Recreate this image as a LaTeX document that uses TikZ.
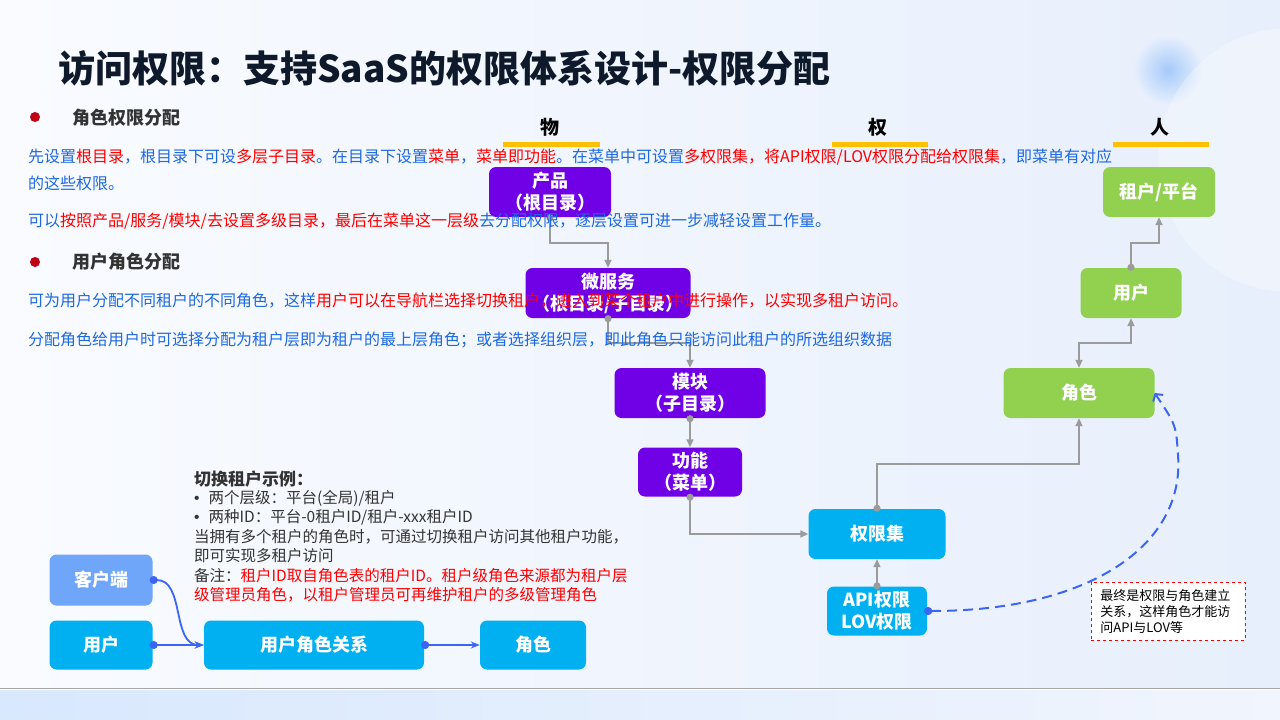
\documentclass[tikz,border=0pt]{standalone}
\usepackage{fontspec}
\setmainfont{Noto Sans CJK SC}
\newfontfamily\latinfont{Liberation Sans}
\usetikzlibrary{arrows.meta}
\definecolor{bgleft}{RGB}{249,251,255}
\definecolor{bgright}{RGB}{231,239,252}
\definecolor{bandleft}{RGB}{216,232,253}
\definecolor{bandright}{RGB}{241,245,253}
\definecolor{blobcol}{RGB}{165,202,250}
\definecolor{titlecol}{RGB}{14,26,43}
\definecolor{headcol}{RGB}{51,51,51}
\definecolor{dotred}{RGB}{192,0,20}
\definecolor{txtblue}{RGB}{30,105,225}
\definecolor{txtred}{RGB}{255,0,0}
\definecolor{wupurple}{RGB}{112,0,230}
\definecolor{quancyan}{RGB}{0,176,240}
\definecolor{rengreen}{RGB}{146,208,80}
\definecolor{clientblue}{RGB}{112,166,250}
\definecolor{linkgray}{RGB}{155,155,155}
\definecolor{linkblue}{RGB}{60,100,245}
\definecolor{barcol}{RGB}{255,192,0}

\begin{document}
\begin{tikzpicture}[x=1pt,y=-1pt,
    box/.style={rounded corners=7pt, text=white, align=center, inner sep=0pt,
      font=\bfseries\fontsize{18}{22}\selectfont},
    wu/.style={box, fill=wupurple},
    quan/.style={box, fill=quancyan},
    ren/.style={box, fill=rengreen},
    grayline/.style={draw=linkgray, line width=1.8pt, shorten <=-3pt,
      {Circle[length=7pt]}-{Triangle[length=8pt,width=7pt]}},
    graytwo/.style={draw=linkgray, line width=1.8pt,
      {Triangle[length=8pt,width=7pt]}-{Triangle[length=8pt,width=7pt]}},
    blueline/.style={draw=linkblue, line width=1.8pt, shorten <=-3pt,
      {Circle[length=8pt]}-{Stealth[length=9pt,width=7pt]}},
    dashline/.style={draw=linkblue, line width=2pt, dash pattern=on 10pt off 6pt,
      shorten <=-3pt, {Circle[length=8pt]}-{Straight Barb[length=5pt,width=12pt]}},
    txt/.style={anchor=west, inner sep=0pt, font=\fontsize{16}{19}\selectfont, text=txtblue},
    gtxt/.style={anchor=west, inner sep=0pt, font=\fontsize{15.5}{19}\selectfont, text=headcol},
    bullethead/.style={anchor=west, inner sep=0pt, font=\bfseries\fontsize{18}{20}\selectfont, text=headcol},
    colhead/.style={inner sep=0pt, font=\bfseries\fontsize{19}{20}\selectfont}]
    \useasboundingbox (0,0) rectangle (1280,720);
    % Fond
    \shade[left color=bgleft, right color=bgright] (0,0) rectangle (1280,688);
    \shade[inner color=blobcol, outer color=bgright] (1168,70) circle (34);
    \begin{scope}
        \clip (0,0) rectangle (1280,688);
        \fill[white, opacity=0.3] (1290,160) circle (132);
    \end{scope}
    \draw[gray!70, line width=1pt] (0,688) -- (1280,688);
    \shade[left color=bandleft, right color=bandright] (0,690) rectangle (1280,720);
    % Titre
    \node[anchor=west, inner sep=0pt, text=titlecol, font=\bfseries\fontsize{37}{40}\selectfont] (titre) at (58,68) {访问权限：支持SaaS的权限体系设计-权限分配};
    % Colonnes
    \node[colhead] (wu) at (550,127) {物};
    \node[colhead] (quan) at (878,127) {权};
    \node[colhead] (ren) at (1160,127) {人};
    \draw[barcol, line width=5pt] (503,144) -- (600,144);
    \draw[barcol, line width=5pt] (832,144) -- (928,144);
    \draw[barcol, line width=5pt] (1113,144) -- (1209,144);
    % Objets
    \node[wu, minimum width=122pt, minimum height=50pt] (chanpin) at (550,192) {产品\\（根目录）};
    \node[wu, minimum width=165pt, minimum height=50pt] (weifuwu) at (608,293) {微服务\\（根目录/子目录）};
    \node[wu, minimum width=151pt, minimum height=50pt] (mokuai) at (690,393) {模块\\（子目录）};
    \node[wu, minimum width=104pt, minimum height=49pt] (gongneng) at (690,472) {功能\\（菜单）};
    % Droits
    \node[quan, minimum width=137pt, minimum height=50pt] (quanxianji) at (877,534) {权限集};
    \node[quan, minimum width=100pt, minimum height=49pt] (apilov) at (877,611) {API权限\\LOV权限};
    % Personnes
    \node[ren, minimum width=151pt, minimum height=50pt] (juese) at (1079,393) {角色};
    \node[ren, minimum width=101pt, minimum height=50pt] (yonghu) at (1131,293) {用户};
    \node[ren, minimum width=112pt, minimum height=50pt] (zuhu) at (1159,192) {租户/平台};
    % Liens
    \draw[grayline] (chanpin.south) -- ++(0,26) -| (weifuwu.north);
    \draw[grayline] (weifuwu.south) -- ++(0,25) -| (mokuai.north);
    \draw[grayline] (mokuai.south) -- (gongneng.north);
    \draw[grayline] (gongneng.south) |- (quanxianji.west);
    \draw[grayline] (apilov.north) -- (quanxianji.south);
    \draw[grayline] (quanxianji.north) -- ++(0,-45) -| (juese.south);
    \draw[graytwo] (juese.north) -- ++(0,-25) -| (yonghu.south);
    \draw[grayline] (yonghu.north) -- ++(0,-25) -| (zuhu.south);
    \draw[dashline] (apilov.east) .. controls (1090,611) and (1185,545) .. (1178,455) .. controls (1176,425) .. (juese.east);
    % Remarque
    \node[draw=txtred, dashed, fill=white, line width=0.8pt, anchor=north west, align=left,
      inner xsep=9pt, inner ysep=7pt, text width=136pt, font=\fontsize{13}{16}\selectfont]
      (zhushi) at (1091,582) {最终是权限与角色建立\\关系，这样角色才能访\\问API与LOV等};
    % Texte en haut
    \fill[dotred] (35,117) circle (5);
    \node[bullethead] (h1) at (72,118) {角色权限分配};
    \node[txt] (p1) at (28,157) {先设置{\color{txtred}根目录}，根目录下可设{\color{txtred}多层子目录}。在目录下设置{\color{txtred}菜单}，{\color{txtred}菜单即功能}。在菜单中可设置{\color{txtred}多权限集，将API权限/LOV权限分配给权限集}，即菜单有对应};
    \node[txt] (p1b) at (28,183) {的这些权限。};
    \node[txt] (p2) at (28,221) {可以{\color{txtred}按照产品/服务/模块/去设置多级目录，最后在菜单这一层级}去分配权限，逐层设置可进一步减轻设置工作量。};
    \fill[dotred] (35,262) circle (5);
    \node[bullethead] (h2) at (72,262) {用户角色分配};
    \node[txt] (p3) at (28,301) {可为用户分配不同租户的不同角色，这样{\color{txtred}用户可以在导航栏选择切换租户，进入到某个租户中进行操作，以实现多租户访问。}};
    \node[txt] (p4) at (28,340) {分配角色给用户时可选择分配为租户层即为租户的最上层角色；或者选择组织层，即此角色只能访问此租户的所选组织数据};
    % Exemple
    \node[anchor=west, inner sep=0pt, text=headcol, font=\bfseries\fontsize{17}{20}\selectfont] (ex0) at (194,479) {切换租户示例：};
    \node[gtxt] (ex1) at (194,498) {{\latinfont •}\hspace{9pt}两个层级：平台(全局)/租户};
    \node[gtxt] (ex2) at (194,517) {{\latinfont •}\hspace{9pt}两种ID：平台-0租户ID/租户-xxx租户ID};
    \node[gtxt] (ex3) at (194,537) {当拥有多个租户的角色时，可通过切换租户访问其他租户功能，};
    \node[gtxt] (ex4) at (194,556) {即可实现多租户访问};
    \node[gtxt] (ex5) at (194,576) {备注：{\color{txtred}租户ID取自角色表的租户ID。租户级角色来源都为租户层}};
    \node[gtxt, text=txtred] (ex6) at (194,595) {级管理员角色，以租户管理员可再维护租户的多级管理角色};
    \node[box, fill=clientblue, minimum width=103pt, minimum height=51pt] (kehuduan) at (101,580) {客户端};
    \node[quan, minimum width=103pt, minimum height=49pt] (yonghu2) at (101,645) {用户};
    \node[quan, minimum width=220pt, minimum height=49pt] (yhjsgx) at (314,645) {用户角色关系};
    \node[quan, minimum width=106pt, minimum height=49pt] (juese2) at (533,645) {角色};
    \draw[blueline] (kehuduan.east) to[out=0,in=180] (yhjsgx.west);
    \draw[blueline] (yonghu2.east) -- (yhjsgx.west);
    \draw[blueline] (yhjsgx.east) -- (juese2.west);
\end{tikzpicture}
\end{document}
